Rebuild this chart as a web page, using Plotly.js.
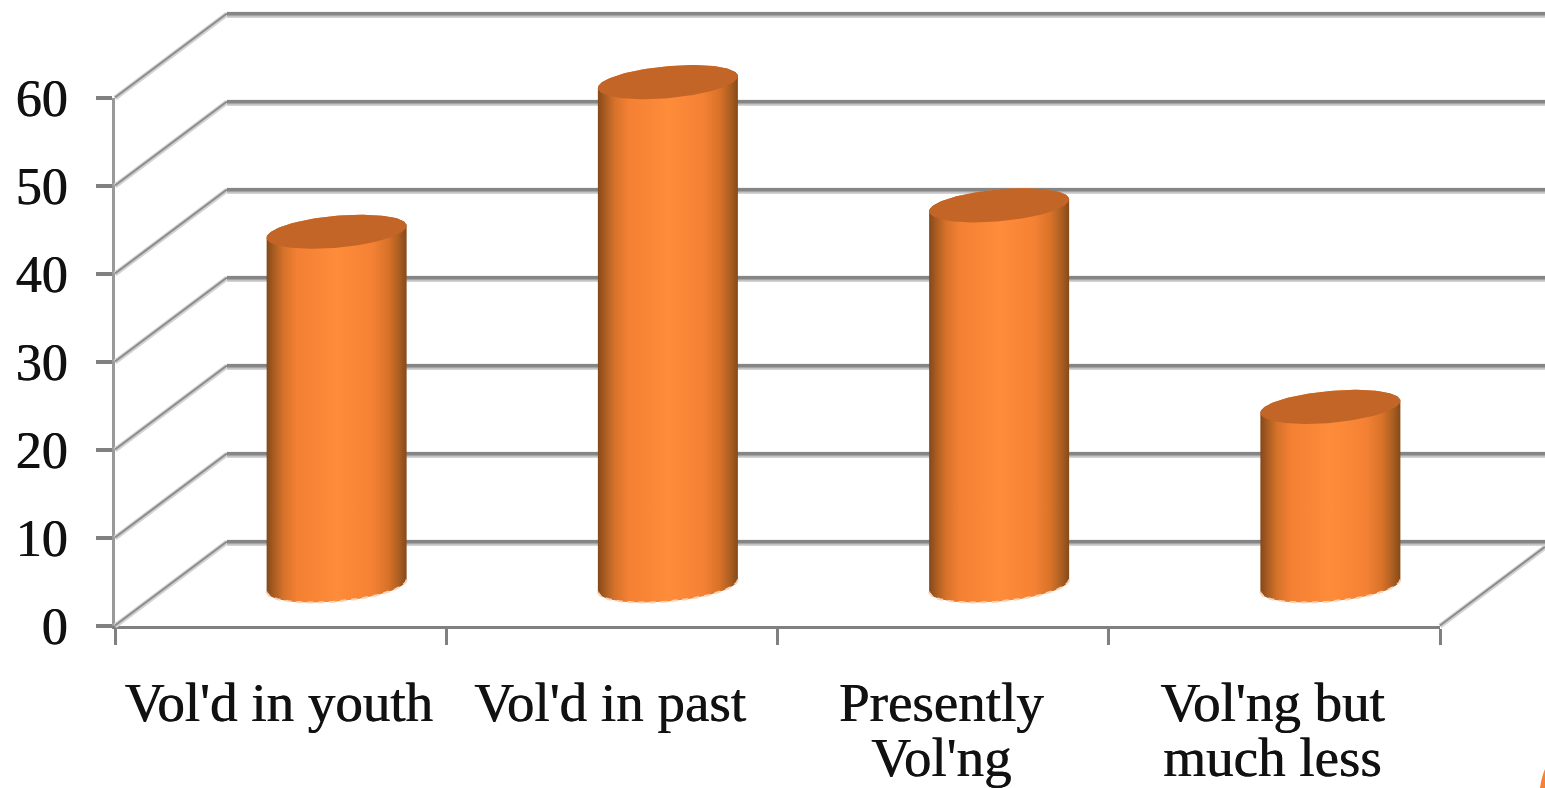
<!DOCTYPE html>
<html>
<head>
<meta charset="utf-8">
<script src="https://cdn.plot.ly/plotly-3.0.1.min.js"></script>
<style>html,body{margin:0;padding:0;background:#fff;overflow:hidden}#chart{width:1545px;height:788px}</style>
</head>
<body>
<div id="chart"></div>
<script>
// Data
const categoriesLine1 = ["Vol'd in youth", "Vol'd in past", "Presently", "Vol'ng but"];
const categoriesLine2 = ["", "", "Vol'ng", "much less"];
const values = [40.2, 57.2, 43.2, 20.3];
const yTicks = [0, 10, 20, 30, 40, 50, 60];

// Chart geometry: front axes box in pixels, and pseudo-3D depth
const W = 1545, H = 788;
const BOX = {l: 115, r: 1440, t: 98, b: 626};
const N = categoriesLine1.length;
const PX_X = (BOX.r - BOX.l) / N;
const PX_Y = (BOX.b - BOX.t) / 60;
const DEPTH_X = 112 / PX_X, DEPTH_Y = 84 / PX_Y;
const XEND = N + (W - BOX.r) / PX_X;
const FONT = "Liberation Serif";
const INK = '0.7px 0 0 #111';

// Invisible trace that holds the visible axes; marks live on the full-page overlay with the same scale
const traces = [{type: 'scatter', mode: 'markers', x: values.map((_, i) => i + 0.5), y: values,
  xaxis: 'x', yaxis: 'y', marker: {opacity: 0}, hoverinfo: 'skip', showlegend: false}];

function line(x, y, color, width) {
  traces.push({type: 'scatter', mode: 'lines', x, y, xaxis: 'x2', yaxis: 'y2', hoverinfo: 'skip',
    line: {color, width, simplify: false}, showlegend: false});
}

// Side-wall diagonals and back-wall grid lines
yTicks.forEach(v => {
  const dy = 1.2 / PX_Y;
  line([0, DEPTH_X], [v, v + DEPTH_Y], '#d2d2d2', 5);
  line([0, DEPTH_X], [v + dy * 0.4, v + DEPTH_Y + dy * 0.4], '#8c8c8c', 2);
  line([DEPTH_X, XEND], [v + DEPTH_Y - dy * 0.6, v + DEPTH_Y - dy * 0.6], '#c4c4c4', 6);
  line([DEPTH_X, XEND], [v + DEPTH_Y + dy * 0.3, v + DEPTH_Y + dy * 0.3], '#858585', 3.5);
});
// Floor right edge
const floorRise = (XEND - N) * (DEPTH_Y / DEPTH_X);
line([N, XEND], [0, floorRise], '#d2d2d2', 5);
line([N, XEND], [0.05, 0.05 + floorRise], '#8c8c8c', 2);

// Cylinders
const A = 70 / PX_X, B = 16 / PX_Y, TILT = 6 / PX_Y;
const BASE = 4.6;
const STEPS = 72;
function ell(cx, cy, t) {
  return [cx + A * Math.cos(t), cy - B * Math.sin(t) + TILT * Math.cos(t)];
}
const bodyScale = [
  [0, '#85481a'], [0.05, '#a85c21'], [0.12, '#d5722a'], [0.22, '#f48033'],
  [0.5, '#fe8c3a'], [0.75, '#f58234'], [0.87, '#d87229'], [0.95, '#a85d21'], [1, '#85491a']
];
values.forEach((v, i) => {
  const cx = i + 0.5 + 0.5 * DEPTH_X;
  const top = BASE + v;
  const bx = [], by = [], ax = [], ay = [], tx = [], ty = [];
  for (let k = 0; k <= STEPS; k++) {
    const p = ell(cx, BASE, k / STEPS * Math.PI);
    ax.push(p[0]); ay.push(p[1]);
  }
  bx.push(...ax); by.push(...ay);
  for (let k = 0; k <= STEPS; k++) {
    const p = ell(cx, top, Math.PI + k / STEPS * Math.PI);
    bx.push(p[0]); by.push(p[1]);
  }
  bx.push(bx[0]); by.push(by[0]);
  traces.push({type: 'scatter', mode: 'lines', x: bx, y: by, xaxis: 'x2', yaxis: 'y2', fill: 'toself',
    hoverinfo: 'skip', showlegend: false, line: {width: 0, color: 'rgba(0,0,0,0)'},
    fillgradient: {type: 'horizontal', colorscale: bodyScale}});
  traces.push({type: 'scatter', mode: 'lines', x: ax, y: ay, xaxis: 'x2', yaxis: 'y2', hoverinfo: 'skip',
    showlegend: false, line: {color: '#fbd3b4', width: 2, dash: '6px 5px'}});
  for (let k = 0; k <= STEPS * 2; k++) {
    const p = ell(cx, top, k / STEPS * Math.PI);
    tx.push(p[0]); ty.push(p[1]);
  }
  traces.push({type: 'scatter', mode: 'lines', x: tx, y: ty, xaxis: 'x2', yaxis: 'y2', fill: 'toself',
    hoverinfo: 'skip', showlegend: false, fillcolor: '#c26526', line: {width: 0, color: '#c26526'}});
});

const labelFont = {family: FONT, size: 55, color: '#111', shadow: INK};
const layout = {
  width: W, height: H,
  margin: {l: 0, r: 0, t: 0, b: 0, pad: 0},
  paper_bgcolor: '#fff', plot_bgcolor: 'rgba(0,0,0,0)',
  showlegend: false,
  xaxis: {
    domain: [BOX.l / W, BOX.r / W], anchor: 'y',
    type: 'linear', range: [0, N], showgrid: false, zeroline: false,
    showline: true, linecolor: '#808080', linewidth: 3,
    tickmode: 'array', tickvals: categoriesLine1.map((_, i) => i + 0.5), ticktext: categoriesLine1,
    ticks: '', ticklabelstandoff: 26, ticklabelshift: -2, tickfont: labelFont, tickangle: 0,
    minor: {tickmode: 'array', tickvals: categoriesLine1.map((_, i) => i).concat([N]),
      ticks: 'outside', ticklen: 16, tickwidth: 3, tickcolor: '#808080', showgrid: false}
  },
  yaxis: {
    domain: [(H - BOX.b) / H, (H - BOX.t) / H], anchor: 'x',
    range: [0, 60], showgrid: false, zeroline: false,
    showline: true, linecolor: '#999', linewidth: 3,
    tickmode: 'array', tickvals: yTicks, ticktext: yTicks.map(String),
    ticks: 'outside', ticklen: 16, tickwidth: 4, tickcolor: '#808080',
    ticklabelstandoff: 18, tickfont: {family: FONT, size: 52, color: '#111', shadow: INK}
  },
  xaxis2: {domain: [0, 1], anchor: 'y2', range: [-BOX.l / PX_X, XEND], visible: false, fixedrange: true},
  yaxis2: {domain: [0, 1], anchor: 'x2', range: [-(H - BOX.b) / PX_Y, 60 + BOX.t / PX_Y], visible: false, fixedrange: true},
  annotations: categoriesLine2.map((t, i) => ({
    text: t, x: i + 0.5, y: 0, xref: 'x', yref: 'y', showarrow: false,
    xanchor: 'center', yanchor: 'top', yshift: -99, xshift: -2, font: labelFont
  })).filter(a => a.text),
  shapes: [{
    type: 'path', xref: 'paper', yref: 'paper', fillcolor: '#f58234', line: {width: 0},
    path: 'M ' + (1540 / W) + ' 0 Q ' + (1541.5 / W) + ' ' + ((H - 777) / H) + ' 1 ' + ((H - 769) / H) + ' L 1 0 Z'
  }]
};
Plotly.newPlot('chart', traces, layout, {displayModeBar: false, staticPlot: true});
</script>
</body>
</html>
